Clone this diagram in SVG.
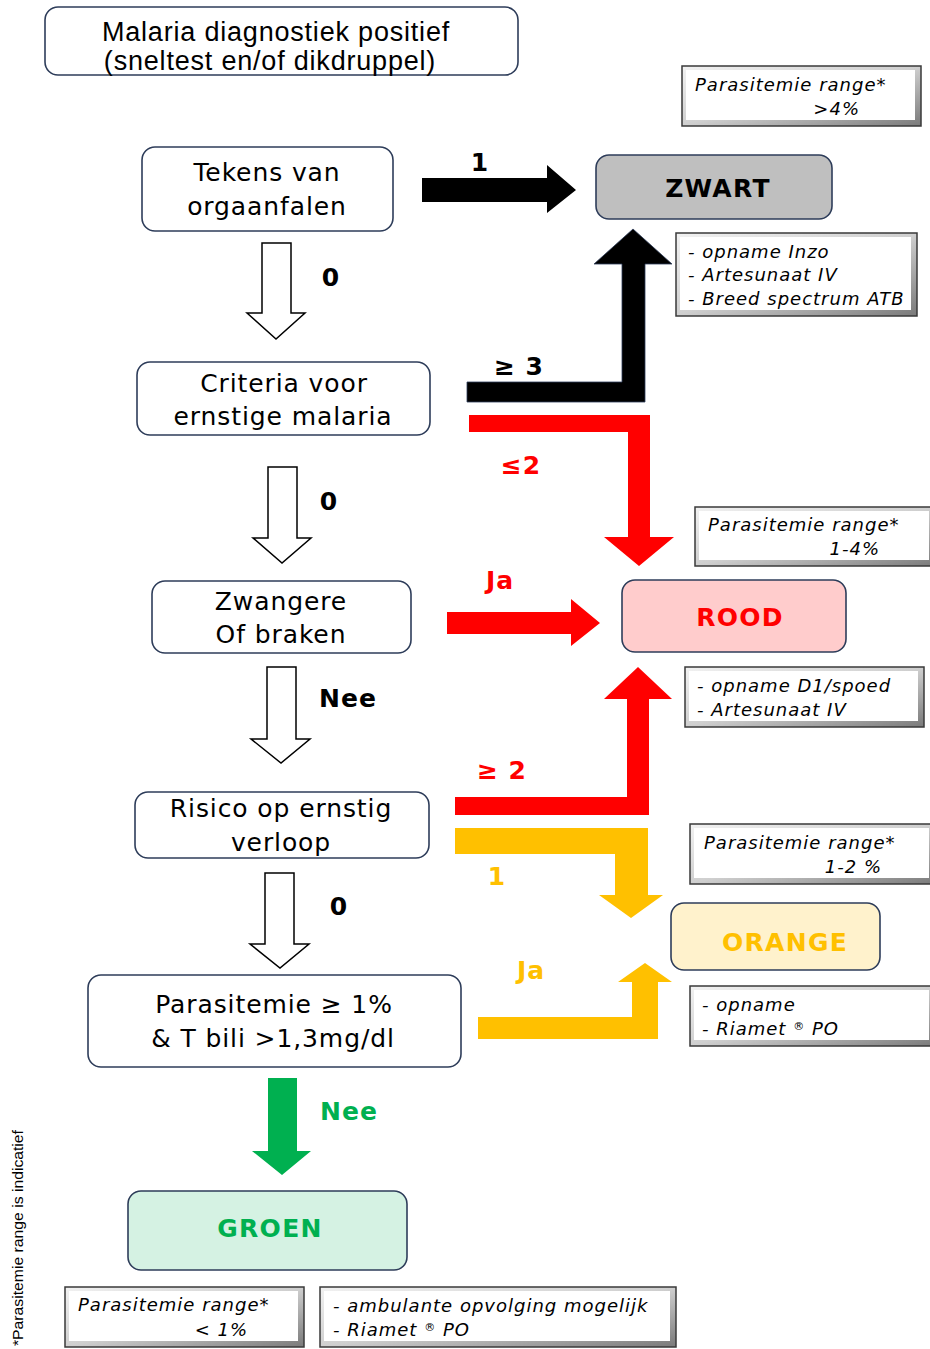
<svg xmlns="http://www.w3.org/2000/svg" width="930" height="1349" viewBox="0 0 930 1349">
<defs>
<style>
.node{fill:#fff;stroke:#2e3d5a;stroke-width:1.6}
.nt{font-family:"DejaVu Sans",Verdana,sans-serif;font-size:25px;fill:#000;text-anchor:middle;letter-spacing:0.9px}
.top{font-family:"Liberation Sans",Arial,sans-serif;font-size:27px;fill:#000;text-anchor:middle;letter-spacing:0.8px}
.lab{font-family:"DejaVu Sans",Verdana,sans-serif;font-size:25px;font-weight:bold;text-anchor:middle;letter-spacing:1px}
.cl{font-family:"DejaVu Sans",Verdana,sans-serif;font-size:25px;font-weight:bold;text-anchor:middle;letter-spacing:1.3px}
.it{font-family:"DejaVu Sans",Verdana,sans-serif;font-size:18px;font-style:italic;fill:#000;letter-spacing:1px}
.bev{fill:url(#bevg);stroke:#3a3a3a;stroke-width:1.5}
.bin{fill:#fff}
.hollow{fill:#fff;stroke:#000;stroke-width:1.5}
</style>
<linearGradient id="bevg" x1="0" y1="0" x2="1" y2="1">
<stop offset="0" stop-color="#f2f2f2"/>
<stop offset="0.5" stop-color="#cfcfcf"/>
<stop offset="1" stop-color="#7a7a7a"/>
</linearGradient>
</defs>
<rect width="930" height="1349" fill="#fff"/>

<g id="connectors">
<polygon points="422,178 547,178 547,165 576,190 547,213 547,202 422,202" fill="#000"/>
<polygon points="467,382 622,382 622,264 594,264 633,229 672,264 645,264 645,402 467,402" fill="#000" stroke="#2e3d5a" stroke-width="0.8"/>
<polygon points="469,415 650,415 650,537 674,537 639,566 604,537 628,537 628,432 469,432" fill="#ff0000"/>
<polygon points="447,612 571,612 571,599 600,623 571,646 571,634 447,634" fill="#ff0000"/>
<polygon points="455,797 627,797 627,699 604,699 638,667 672,699 649,699 649,815 455,815" fill="#ff0000"/>
<polygon points="455,828 648,828 648,895 663,895 631,918 599,895 615,895 615,854 455,854" fill="#ffc000"/>
<polygon points="478,1017 632,1017 632,982 618,982 645,963 672,982 658,982 658,1039 478,1039" fill="#ffc000"/>
<polygon class="hollow" points="262,243 291,243 291,313 305,313 276,339 247,313 262,313"/>
<polygon class="hollow" points="268,467 297,467 297,538 311,538 282,563 253,538 268,538"/>
<polygon class="hollow" points="267,667 296,667 296,739 310,739 281,763 251,739 267,739"/>
<polygon class="hollow" points="265,873 294,873 294,944 309,944 280,968 250,944 265,944"/>
<polygon points="268,1078 297,1078 297,1151 311,1151 282,1175 252,1151 268,1151" fill="#00b050"/>
<text class="lab" x="480" y="171" fill="#000">1</text>
<text class="lab" x="519" y="375" fill="#000">≥ 3</text>
<text class="lab" x="521" y="474" fill="#ff0000">≤2</text>
<text class="lab" x="500" y="589" fill="#ff0000">Ja</text>
<text class="lab" x="502" y="779" fill="#ff0000">≥ 2</text>
<text class="lab" x="497" y="885" fill="#ffc000">1</text>
<text class="lab" x="531" y="979" fill="#ffc000">Ja</text>
<text class="lab" x="331" y="286" fill="#000">0</text>
<text class="lab" x="329" y="510" fill="#000">0</text>
<text class="lab" x="348" y="707" fill="#000">Nee</text>
<text class="lab" x="339" y="915" fill="#000">0</text>
<text class="lab" x="349" y="1120" fill="#00b050">Nee</text>
</g>

<g id="start">
<rect class="node" x="45" y="7" width="473" height="68" rx="13"/>
<text class="top" x="276" y="41">Malaria diagnostiek positief</text>
<text class="top" x="270" y="70">(sneltest en/of dikdruppel)</text>
</g>
<g id="orgaanfalen">
<rect class="node" x="142" y="147" width="251" height="84" rx="13"/>
<text class="nt" x="267" y="181">Tekens van</text>
<text class="nt" x="267" y="215">orgaanfalen</text>
</g>
<g id="criteria">
<rect class="node" x="137" y="362" width="293" height="73" rx="13"/>
<text class="nt" x="284" y="392">Criteria voor</text>
<text class="nt" x="283" y="425">ernstige malaria</text>
</g>
<g id="zwangere">
<rect class="node" x="152" y="581" width="259" height="72" rx="13"/>
<text class="nt" x="281" y="610">Zwangere</text>
<text class="nt" x="281" y="643">Of braken</text>
</g>
<g id="risico">
<rect class="node" x="135" y="792" width="294" height="66" rx="13"/>
<text class="nt" x="281" y="817">Risico op ernstig</text>
<text class="nt" x="281" y="851">verloop</text>
</g>
<g id="parasitemie">
<rect class="node" x="88" y="975" width="373" height="92" rx="13"/>
<text class="nt" x="274" y="1013">Parasitemie ≥ 1%</text>
<text class="nt" x="273" y="1047">&amp; T bili &gt;1,3mg/dl</text>
</g>

<g id="zwart">
<rect x="596" y="155" width="236" height="64" rx="13" fill="#bfbfbf" stroke="#2e3d5a" stroke-width="1.6"/>
<text class="cl" x="718" y="197" fill="#000">ZWART</text>
</g>
<g id="rood">
<rect x="622" y="580" width="224" height="72" rx="13" fill="#ffcccc" stroke="#2e3d5a" stroke-width="1.6"/>
<text class="cl" x="740" y="626" fill="#ff0000">ROOD</text>
</g>
<g id="orange">
<rect x="671" y="903" width="209" height="67" rx="13" fill="#fff2cc" stroke="#2e3d5a" stroke-width="1.6"/>
<text class="cl" x="785" y="951" fill="#ffc000">ORANGE</text>
</g>
<g id="groen">
<rect x="128" y="1191" width="279" height="79" rx="13" fill="#d5f2e3" stroke="#2e3d5a" stroke-width="1.6"/>
<text class="cl" x="270" y="1237" fill="#00b050">GROEN</text>
</g>

<g id="info-zwart-range">
<rect class="bev" x="682" y="66" width="239" height="60"/>
<rect class="bin" x="686" y="70" width="229" height="50"/>
<text class="it" x="695" y="91">Parasitemie range*</text>
<text class="it" x="860" y="115" text-anchor="end">&gt;4%</text>
</g>
<g id="info-zwart-tx">
<rect class="bev" x="676" y="233" width="241" height="83"/>
<rect class="bin" x="680" y="237" width="231" height="73"/>
<text class="it" x="688" y="258">- opname Inzo</text>
<text class="it" x="688" y="281">- Artesunaat IV</text>
<text class="it" x="688" y="305">- Breed spectrum ATB</text>
</g>
<g id="info-rood-range">
<rect class="bev" x="695" y="507" width="240" height="59"/>
<rect class="bin" x="699" y="511" width="230" height="49"/>
<text class="it" x="708" y="531">Parasitemie range*</text>
<text class="it" x="880" y="555" text-anchor="end">1-4%</text>
</g>
<g id="info-rood-tx">
<rect class="bev" x="685" y="667" width="239" height="60"/>
<rect class="bin" x="689" y="671" width="229" height="50"/>
<text class="it" x="697" y="692">- opname D1/spoed</text>
<text class="it" x="697" y="716">- Artesunaat IV</text>
</g>
<g id="info-orange-range">
<rect class="bev" x="690" y="824" width="245" height="60"/>
<rect class="bin" x="694" y="828" width="235" height="50"/>
<text class="it" x="704" y="849">Parasitemie range*</text>
<text class="it" x="882" y="873" text-anchor="end">1-2 %</text>
</g>
<g id="info-orange-tx">
<rect class="bev" x="690" y="986" width="245" height="60"/>
<rect class="bin" x="694" y="990" width="235" height="50"/>
<text class="it" x="702" y="1011">- opname</text>
<text class="it" x="702" y="1035">- Riamet <tspan font-size="11" dy="-5">®</tspan><tspan dy="5"> PO</tspan></text>
</g>
<g id="info-groen-range">
<rect class="bev" x="65" y="1287" width="239" height="60"/>
<rect class="bin" x="69" y="1291" width="229" height="50"/>
<text class="it" x="78" y="1311">Parasitemie range*</text>
<text class="it" x="248" y="1336" text-anchor="end">&lt; 1%</text>
</g>
<g id="info-groen-tx">
<rect class="bev" x="320" y="1287" width="356" height="60"/>
<rect class="bin" x="324" y="1291" width="346" height="50"/>
<text class="it" x="333" y="1312">- ambulante opvolging mogelijk</text>
<text class="it" x="333" y="1336">- Riamet <tspan font-size="11" dy="-5">®</tspan><tspan dy="5"> PO</tspan></text>
</g>

<text transform="translate(23,1346) rotate(-90)" font-family="'Liberation Sans Narrow','Liberation Sans',Arial,sans-serif" font-size="14" fill="#000" textLength="216" lengthAdjust="spacingAndGlyphs">*Parasitemie range is indicatief</text>
</svg>
